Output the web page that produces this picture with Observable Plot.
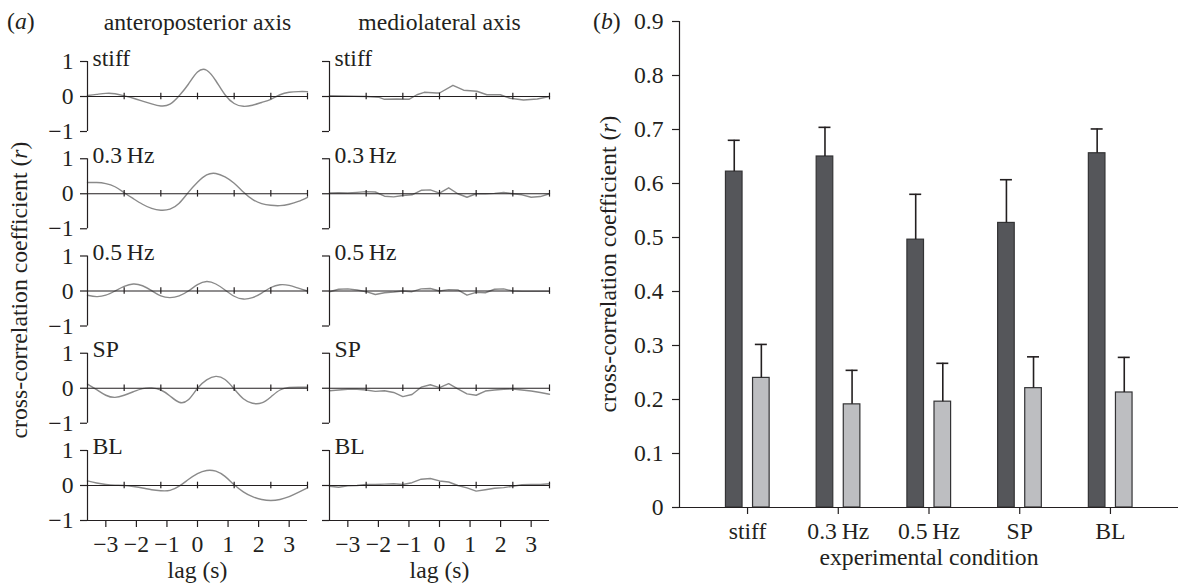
<!DOCTYPE html>
<html><head><meta charset="utf-8">
<script src="https://cdn.jsdelivr.net/npm/d3@7"></script>
<script src="https://cdn.jsdelivr.net/npm/@observablehq/plot@0.6"></script>
<style>
body{margin:0;background:#fff;}
#wrap{position:relative;width:1178px;height:587px;overflow:hidden;background:#fff;}
#a{position:absolute;left:0;top:0;}
#b{position:absolute;left:570px;top:0;}
</style></head><body><div id="wrap"><div id="a"></div><div id="b"></div></div>
<script>
const FONT = "'Liberation Serif','Times New Roman',serif";
const FS = 23.7;
const INK = "#231f20";

// ---------- data: panel (a) ----------
const lags = [-3.6,-3.3,-3.0,-2.7,-2.4,-2.1,-1.8,-1.5,-1.2,-0.9,-0.6,-0.3,0,0.3,0.6,0.9,1.2,1.5,1.8,2.1,2.4,2.7,3.0,3.3,3.6];
const conditions = ["stiff","0.3\u2009Hz","0.5\u2009Hz","SP","BL"];
const axisKeys = ["AP","ML"];
const axisTitles = ["anteroposterior axis","mediolateral axis"];

const apStiff = [0.03,0.06,0.09,0.08,0.02,-0.05,-0.13,-0.21,-0.27,-0.22,0.02,0.35,0.70,0.75,0.45,0.05,-0.20,-0.28,-0.25,-0.17,-0.08,0.05,0.12,0.14,0.14];
const ap03    = [0.32,0.32,0.29,0.20,0.03,-0.14,-0.30,-0.42,-0.47,-0.44,-0.27,0.04,0.33,0.54,0.58,0.48,0.30,0.05,-0.16,-0.28,-0.33,-0.34,-0.30,-0.22,-0.10];
const ap05    = [-0.12,-0.16,-0.12,0.00,0.13,0.20,0.15,0.01,-0.14,-0.19,-0.14,0.00,0.18,0.27,0.20,0.03,-0.15,-0.23,-0.19,-0.06,0.10,0.18,0.16,0.08,0.00];
const apSP    = [0.12,-0.04,-0.20,-0.26,-0.20,-0.10,-0.01,0.01,-0.05,-0.22,-0.40,-0.33,0.00,0.24,0.34,0.25,-0.02,-0.30,-0.43,-0.42,-0.25,-0.05,0.02,0.03,0.03];
const apBL    = [0.13,0.07,0.03,0.01,0.00,-0.03,-0.07,-0.12,-0.15,-0.14,-0.02,0.17,0.34,0.43,0.41,0.26,0.02,-0.18,-0.32,-0.40,-0.43,-0.40,-0.32,-0.20,-0.07];

// mediolateral stiff is read at its own (irregular) lags to keep its peak
const mlStiffLags = [-3.6,-2.4,-2.0,-1.8,-1.4,-1.0,-0.74,-0.5,-0.1,0.0,0.44,0.79,1.22,1.55,1.99,2.31,2.75,3.2,3.6];
const mlStiff     = [0.02,0.00,-0.02,-0.08,-0.07,-0.08,0.05,0.12,0.10,0.10,0.32,0.18,0.15,0.05,0.05,-0.05,-0.10,-0.07,0.00];
const ml03    = [0.02,0.03,0.02,0.04,0.06,0.05,-0.07,-0.09,-0.05,-0.03,0.10,0.11,0.02,0.17,0.00,-0.10,0.00,0.00,0.01,0.04,0.00,-0.03,-0.10,-0.08,0.00];
const ml05    = [-0.02,0.05,0.06,0.03,-0.02,-0.10,-0.05,-0.03,0.00,-0.02,0.06,0.07,0.00,0.04,0.03,-0.12,-0.04,-0.05,0.05,0.06,0.00,-0.01,-0.01,-0.01,-0.01];
const mlSP    = [-0.07,-0.05,-0.03,-0.03,-0.05,-0.09,-0.07,-0.12,-0.24,-0.18,0.03,0.10,0.02,0.13,-0.02,-0.16,-0.20,-0.08,-0.05,-0.03,-0.02,-0.05,-0.08,-0.12,-0.17];
const mlBL    = [-0.02,-0.05,-0.01,0.00,0.03,0.03,0.04,0.05,0.03,0.08,0.18,0.20,0.13,0.10,0.00,-0.07,-0.16,-0.12,-0.08,-0.06,-0.02,0.02,0.03,0.03,0.05];

const yTicksA = [-1, 0, 1];
const yTickLabelsA = ["\u22121", "0", "1"];
const lagTicks = [-3,-2,-1,0,1,2,3];
const zeroLineTicks = [-2.4,-1.2,0,1.2,2.4,3.6];

// ---------- data: panel (b) ----------
const darkMean  = [0.622,0.650,0.496,0.527,0.656];
const darkErr   = [0.058,0.054,0.084,0.080,0.045];
const lightMean = [0.240,0.191,0.196,0.221,0.213];
const lightErr  = [0.062,0.063,0.071,0.058,0.065];
const yTicksB = [0,0.1,0.2,0.3,0.4,0.5,0.6,0.7,0.8,0.9];

// ---------- build tables ----------
const curves = {
  AP: [[lags, apStiff], [lags, ap03], [lags, ap05], [lags, apSP], [lags, apBL]],
  ML: [[mlStiffLags, mlStiff], [lags, ml03], [lags, ml05], [lags, mlSP], [lags, mlBL]]
};
const rows = [];
axisKeys.forEach(ax => curves[ax].forEach(([lx, arr], ci) => arr.forEach((r, i) =>
  rows.push({axis: ax, cond: conditions[ci], lag: lx[i], r}))));
const panels = axisKeys.flatMap(ax => conditions.map(c => ({axis: ax, cond: c})));
const yLabelRows = conditions.flatMap(c => yTicksA.map((v, i) => ({axis: "AP", cond: c, v, t: yTickLabelsA[i]})));
const bottomRows = axisKeys.flatMap(ax => lagTicks.map(l => ({axis: ax, cond: "BL", lag: l})));
const lagRows = axisKeys.map(ax => ({axis: ax, cond: "BL"}));
const colRows = axisKeys.map((ax, i) => ({axis: ax, cond: conditions[0], title: axisTitles[i]}));
const fmt = d => d < 0 ? "\u2212" + Math.abs(d) : String(d);

const xMin = lags[0], xMax = lags[lags.length - 1];
const tickLenX = 7 / (220 / (xMax - xMin));
const tickLenY = 7 / 35;

const chartA = Plot.plot({
  width: 570, height: 587,
  marginLeft: 87, marginRight: 21, marginTop: 61, marginBottom: 67,
  style: {fontFamily: FONT, fontSize: FS + "px", color: INK, background: "white", overflow: "visible"},
  fx: {domain: axisKeys, paddingInner: 22 / 242, paddingOuter: 0, round: false, axis: null},
  fy: {domain: conditions, paddingInner: 0.28, paddingOuter: 0, round: false, axis: null},
  x: {domain: [xMin, xMax], axis: null},
  y: {domain: [-1, 1], axis: null},
  marks: [
    Plot.line(rows.filter(d => d.axis === "AP"), {x: "lag", y: "r", fx: "axis", fy: "cond", curve: "natural", stroke: "#8a8a8a", strokeWidth: 1.4}),
    Plot.line(rows.filter(d => d.axis === "ML"), {x: "lag", y: "r", fx: "axis", fy: "cond", stroke: "#8a8a8a", strokeWidth: 1.4}),
    Plot.ruleY([0], {x1: xMin, x2: xMax, stroke: INK, strokeWidth: 1.2}),
    Plot.ruleX(zeroLineTicks, {x: d => d, y1: -0.095, y2: 0.095, stroke: INK, strokeWidth: 1.2}),
    Plot.ruleX([xMin], {y1: -1, y2: 1, stroke: INK, strokeWidth: 1.2}),
    Plot.ruleY(yTicksA, {y: d => d, x1: xMin - tickLenX, x2: xMin, stroke: INK, strokeWidth: 1.2}),
    Plot.text(yLabelRows, {fx: "axis", fy: "cond", x: xMin, y: "v", text: "t", dx: -14, textAnchor: "end", fill: INK}),
    Plot.text(panels, {fx: "axis", fy: "cond", x: xMin, y: 1, text: "cond", dx: 5, dy: 4, textAnchor: "start", lineAnchor: "bottom", fill: INK}),
    Plot.ruleY(lagRows, {fx: "axis", fy: "cond", y: -1, x1: xMin, x2: xMax, stroke: INK, strokeWidth: 1.2}),
    Plot.ruleX(bottomRows, {fx: "axis", fy: "cond", x: "lag", y1: -1, y2: -1 - tickLenY, stroke: INK, strokeWidth: 1.2}),
    Plot.text(bottomRows, {fx: "axis", fy: "cond", x: "lag", y: -1, dy: 31, lineAnchor: "bottom", text: d => fmt(d.lag), fill: INK}),
    Plot.text(lagRows, {fx: "axis", fy: "cond", x: 0, y: -1, dy: 57, lineAnchor: "bottom", text: () => "lag (s)", fill: INK}),
    Plot.text(colRows, {fx: "axis", fy: "cond", x: 0, y: 1, dy: -32, lineAnchor: "bottom", text: "title", fill: INK})
  ]
});
document.getElementById("a").append(chartA);
{
  const s = d3.select(chartA);
  const t = s.append("text").attr("x", 7).attr("y", 29).attr("text-anchor", "start").attr("fill", INK);
  t.append("tspan").text("(");
  t.append("tspan").attr("font-style", "italic").text("a");
  t.append("tspan").text(")");
  const yl = s.append("text").attr("transform", "translate(27,290) rotate(-90)").attr("text-anchor", "middle").attr("fill", INK);
  yl.append("tspan").text("cross-correlation coefficient (");
  yl.append("tspan").attr("font-style", "italic").text("r");
  yl.append("tspan").text(")");
}

// ---------- panel (b) ----------
const WB = 608, MLB = 109, PO = 0.25;
const stepB = (WB - MLB) / (conditions.length + 2 * PO);
const half = stepB / 2;
const dark = conditions.map((c, i) => ({cond: c, v: darkMean[i], e: darkErr[i]}));
const light = conditions.map((c, i) => ({cond: c, v: lightMean[i], e: lightErr[i]}));
const yPx = 0.9 / 486;

const chartB = Plot.plot({
  width: WB, height: 587,
  marginLeft: MLB, marginRight: 0, marginTop: 21, marginBottom: 80,
  style: {fontFamily: FONT, fontSize: FS + "px", color: INK, background: "white", overflow: "visible"},
  x: {type: "band", domain: conditions, paddingInner: 0, paddingOuter: PO, round: false, axis: null},
  y: {domain: [0, 0.9], axis: null},
  marks: [
    Plot.barY(dark, {x: "cond", y: "v", fill: "#55565a", stroke: "#333335", strokeWidth: 1.2, insetLeft: half - 21.6, insetRight: half + 5.0}),
    Plot.barY(light, {x: "cond", y: "v", fill: "#bdbec1", stroke: "#333335", strokeWidth: 1.2, insetLeft: half + 5.5, insetRight: half - 22.1}),
    Plot.ruleX(dark, {x: "cond", y1: "v", y2: d => d.v + d.e, dx: -13.3, stroke: INK, strokeWidth: 1.6}),
    Plot.ruleX(light, {x: "cond", y1: "v", y2: d => d.v + d.e, dx: 13.8, stroke: INK, strokeWidth: 1.6}),
    Plot.tickY(dark, {x: "cond", y: d => d.v + d.e, insetLeft: half - 19.3, insetRight: half + 7.3, stroke: INK, strokeWidth: 1.6}),
    Plot.tickY(light, {x: "cond", y: d => d.v + d.e, insetLeft: half + 7.8, insetRight: half - 19.8, stroke: INK, strokeWidth: 1.6}),
    Plot.ruleY([0], {stroke: INK, strokeWidth: 1.2}),
    Plot.frame({anchor: "left", stroke: INK, strokeWidth: 1.2}),
    Plot.axisY({ticks: yTicksB, tickSize: 7, tickPadding: 9, tickFormat: d => d === 0 ? "0" : d.toFixed(1), label: null, stroke: INK, fill: INK, strokeWidth: 1.2}),
    Plot.ruleX(conditions, {x: d => d, y1: 0, y2: -7 * yPx, stroke: INK, strokeWidth: 1.2}),
    Plot.text(conditions, {x: d => d, y: 0, dy: 31, lineAnchor: "bottom", text: d => d, fill: INK}),
    Plot.text(["experimental condition"], {frameAnchor: "bottom", dy: 57, lineAnchor: "bottom", text: d => d, fill: INK})
  ]
});
document.getElementById("b").append(chartB);
{
  const s = d3.select(chartB);
  const t = s.append("text").attr("x", 23).attr("y", 29).attr("text-anchor", "start").attr("fill", INK);
  t.append("tspan").text("(");
  t.append("tspan").attr("font-style", "italic").text("b");
  t.append("tspan").text(")");
  const yl = s.append("text").attr("transform", "translate(46,264) rotate(-90)").attr("text-anchor", "middle").attr("fill", INK);
  yl.append("tspan").text("cross-correlation coefficient (");
  yl.append("tspan").attr("font-style", "italic").text("r");
  yl.append("tspan").text(")");
}
</script></body></html>
